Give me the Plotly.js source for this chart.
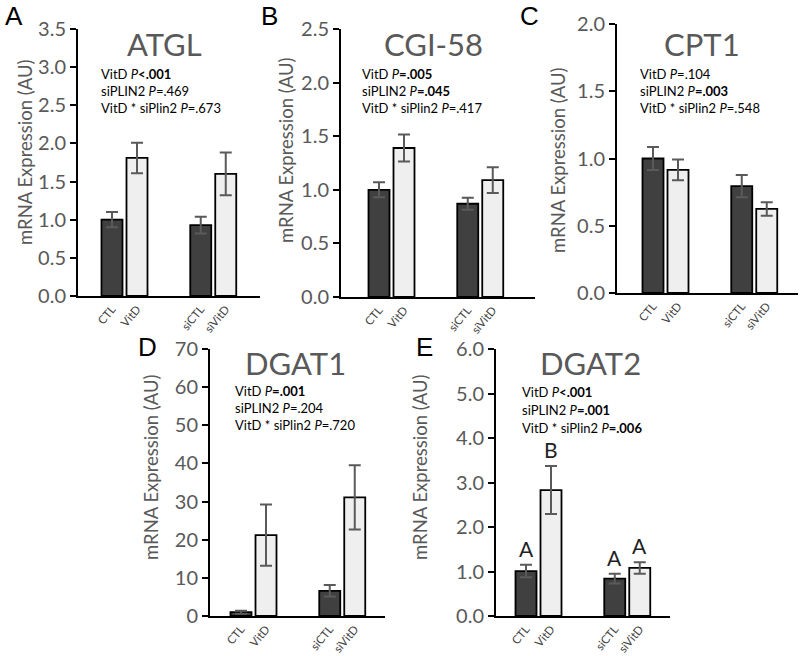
<!DOCTYPE html>
<html>
<head>
<meta charset="utf-8">
<script src="https://cdn.plot.ly/plotly-3.0.1.min.js"></script>
<style>html,body{margin:0;padding:0;background:#fff;}#chart{width:800px;height:656px;}</style>
</head>
<body>
<div id="chart"></div>
<script>
// ---------- data ----------
const categories = ['CTL', 'VitD', 'siCTL', 'siVitD'];
const geneNames = ['ATGL', 'CGI-58', 'CPT1', 'DGAT1', 'DGAT2'];
const panelLetters = ['A', 'B', 'C', 'D', 'E'];

const atglMean = [1.00, 1.81, 0.93, 1.60];
const atglErr  = [0.10, 0.20, 0.11, 0.28];
const cgiMean  = [1.00, 1.39, 0.87, 1.09];
const cgiErr   = [0.07, 0.125, 0.055, 0.12];
const cptMean  = [1.00, 0.915, 0.795, 0.625];
const cptErr   = [0.085, 0.077, 0.083, 0.05];
const dgat1Mean = [1.0, 21.2, 6.6, 31.1];
const dgat1Err  = [0.4, 8.0, 1.5, 8.4];
const dgat2Mean = [1.01, 2.83, 0.84, 1.08];
const dgat2Err  = [0.14, 0.54, 0.11, 0.13];
const dgat2Letters = ['A', 'B', 'A', 'A'];

const atglStats  = ['VitD <i>P</i><b>&lt;.001</b>', 'siPLIN2 <i>P</i>=.469', 'VitD * siPlin2 <i>P</i>=.673'];
const cgiStats   = ['VitD <i>P</i><b>=.005</b>', 'siPLIN2 <i>P</i><b>=.045</b>', 'VitD * siPlin2 <i>P</i>=.417'];
const cptStats   = ['VitD <i>P</i>=.104', 'siPLIN2 <i>P</i><b>=.003</b>', 'VitD * siPlin2 <i>P</i>=.548'];
const dgat1Stats = ['VitD <i>P</i><b>=.001</b>', 'siPLIN2 <i>P</i>=.204', 'VitD * siPlin2 <i>P</i>=.720'];
const dgat2Stats = ['VitD <i>P</i><b>&lt;.001</b>', 'siPLIN2 <i>P</i><b>=.001</b>', 'VitD * siPlin2 <i>P</i><b>=.006</b>'];

const yMaxes = [3.5, 2.5, 2.0, 70, 6.0];
const yDticks = [0.5, 0.5, 0.5, 10, 1.0];
const yAxisTitle = 'mRNA Expression (AU)';

// ---------- layout geometry (pixels) ----------
const W = 800, H = 656;
const px = x => x / W;
const py = y => 1 - y / H;
const barPos = [0, 1, 3.55, 4.55];
const unit = 25;
const panels = [
  {mean: atglMean, err: atglErr, stats: atglStats, l: 78,  r: 260, t: 29,  b: 296, off: 34, title: [164, 44], statX: 99, statY: [74, 91, 108], letter: [14, 16], ytitle: [25, 152], fmt: '.1f'},
  {mean: cgiMean,  err: cgiErr,  stats: cgiStats,  l: 341, r: 535, t: 29,  b: 297, off: 38, title: [433, 44], statX: 360, statY: [74, 91, 108], letter: [269, 16], ytitle: [286, 150], fmt: '.1f'},
  {mean: cptMean,  err: cptErr,  stats: cptStats,  l: 617, r: 798, t: 24,  b: 293, off: 36, title: [702, 44], statX: 638, statY: [74, 91, 108], letter: [529, 16], ytitle: [558, 160], fmt: '.1f'},
  {mean: dgat1Mean, err: dgat1Err, stats: dgat1Stats, l: 210, r: 385, t: 349, b: 616, off: 31, title: [295, 363], statX: 233, statY: [391, 408, 425], letter: [147, 347], ytitle: [151, 467], fmt: 'd'},
  {mean: dgat2Mean, err: dgat2Err, stats: dgat2Stats, l: 496, r: 670, t: 349, b: 616, off: 30, title: [590, 363], statX: 520, statY: [392, 410, 428], letter: [424, 347], ytitle: [420, 467], fmt: '.1f'}
];

const darkFill = '#404040', lightFill = '#efefef';
const grayText = '#595959';
const FONT = 'Lato, "Open Sans", sans-serif';

const data = [];
const layout = {
  width: W, height: H,
  margin: {l: 0, r: 0, t: 0, b: 0},
  paper_bgcolor: '#fff', plot_bgcolor: 'rgba(0,0,0,0)',
  showlegend: false,
  bargap: 0,
  annotations: []
};

panels.forEach((p, i) => {
  const n = i === 0 ? '' : String(i + 1);
  const xa = 'x' + n, ya = 'y' + n;
  data.push({
    type: 'bar',
    x: barPos,
    y: p.mean,
    xaxis: xa, yaxis: ya,
    width: 0.84,
    marker: {color: [darkFill, lightFill, darkFill, lightFill], line: {color: '#000', width: 1.8}},
    error_y: {type: 'data', array: p.err, visible: true, color: '#5a5a5a', thickness: 2, width: 6},
    hoverinfo: 'skip'
  });
  const x0 = -p.off / unit;
  const x1 = x0 + (p.r - p.l) / unit;
  layout['xaxis' + n] = {
    domain: [px(p.l), px(p.r)], anchor: ya, range: [x0, x1],
    tickvals: barPos, ticktext: categories, tickangle: -50,
    tickfont: {family: FONT, size: 11.5, color: '#444'},
    showline: true, linecolor: '#000', linewidth: 2, ticks: '',
    showgrid: false, zeroline: false, fixedrange: true
  };
  layout['yaxis' + n] = {
    domain: [py(p.b), py(p.t)], anchor: xa, range: [0, yMaxes[i]],
    tick0: 0, dtick: yDticks[i], tickformat: p.fmt,
    tickfont: {family: FONT, size: 20, color: grayText},
    showline: true, linecolor: '#000', linewidth: 2,
    ticks: 'outside', ticklen: 6, tickwidth: 2, tickcolor: '#000',
    showgrid: false, zeroline: false, fixedrange: true
  };
  // gene title
  layout.annotations.push({xref: 'paper', yref: 'paper', x: px(p.title[0]), y: py(p.title[1]),
    xanchor: 'center', yanchor: 'middle', showarrow: false, text: geneNames[i],
    font: {family: FONT, size: 31, color: grayText}});
  // stats lines
  p.stats.forEach((s, k) => {
    layout.annotations.push({xref: 'paper', yref: 'paper', x: px(p.statX), y: py(p.statY[k]),
      xanchor: 'left', yanchor: 'middle', showarrow: false, text: s,
      font: {family: FONT, size: 13, color: '#000'}});
  });
  // panel letter
  layout.annotations.push({xref: 'paper', yref: 'paper', x: px(p.letter[0]), y: py(p.letter[1]),
    xanchor: 'center', yanchor: 'middle', showarrow: false, text: panelLetters[i],
    font: {family: '"Liberation Sans", Arial, sans-serif', size: 26, color: '#000'}});
  // y axis title
  layout.annotations.push({xref: 'paper', yref: 'paper', x: px(p.ytitle[0]), y: py(p.ytitle[1]),
    xanchor: 'center', yanchor: 'middle', showarrow: false, text: yAxisTitle, textangle: -90,
    font: {family: FONT, size: 18.5, color: grayText}});
});

// significance letters for DGAT2
dgat2Letters.forEach((L, k) => {
  layout.annotations.push({xref: 'x5', yref: 'y5', x: barPos[k], y: dgat2Mean[k] + dgat2Err[k],
    xanchor: 'center', yanchor: 'bottom', yshift: 2, showarrow: false, text: L,
    font: {family: FONT, size: 21, color: '#222'}});
});

Plotly.newPlot('chart', data, layout, {staticPlot: true, displayModeBar: false});
</script>
</body>
</html>
